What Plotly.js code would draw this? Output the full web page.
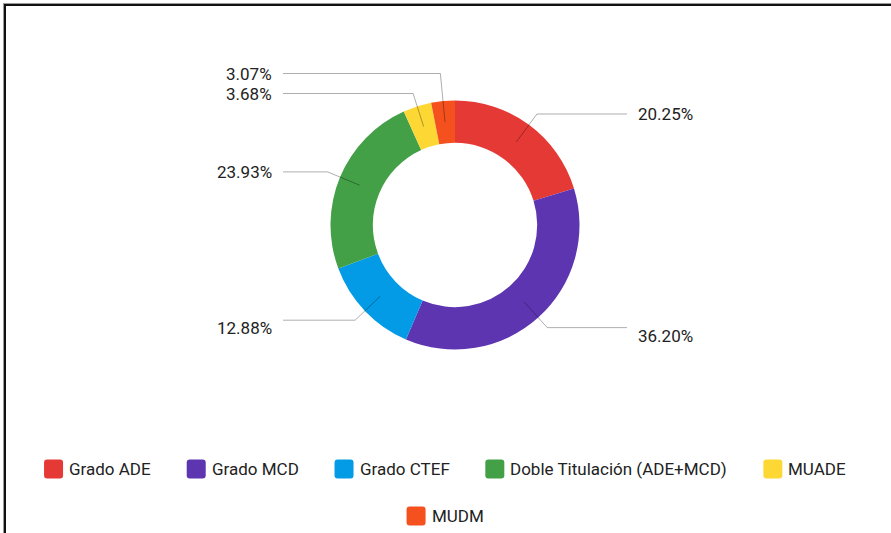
<!DOCTYPE html>
<html><head><meta charset="utf-8">
<script src="https://cdn.plot.ly/plotly-3.0.1.min.js"></script>
<style>
html,body{margin:0;padding:0;background:#fff;}
#wrap{position:relative;width:891px;height:533px;overflow:hidden;background:#fff;}
#chart{position:absolute;left:0;top:0;width:891px;height:533px;}
#f1{position:absolute;left:3px;top:3px;right:-10px;bottom:-10px;border-left:1px solid #9a9a9a;border-top:1px solid #9a9a9a;pointer-events:none;}
#f2{position:absolute;left:4px;top:4px;right:-10px;bottom:-10px;border-left:2px solid #111;border-top:2px solid #111;pointer-events:none;}
</style></head>
<body><div id="wrap"><div id="chart"></div><div id="f1"></div><div id="f2"></div></div>
<script>
// ---- data ----
const categories = ['Grado ADE', 'Grado MCD', 'Grado CTEF', 'Doble Titulación (ADE+MCD)', 'MUADE', 'MUDM'];
const shares = [20.25, 36.20, 12.88, 23.93, 3.68, 3.07];
const sliceColors = ['#E53935', '#5E35B1', '#039BE5', '#43A047', '#FDD835', '#F4511E'];
const valueLabels = shares.map(v => v.toFixed(2) + '%');

// ---- geometry (pixels) ----
const W = 891, H = 533;
const CX = 455, CY = 225, R = 124.5, HOLE = 0.66;
const FONT = 'Roboto, Arial, sans-serif';
const FS = 17;
const TXT = '#222222';
const px = x => x / W;
const py = y => 1 - y / H;

const total = shares.reduce((a, b) => a + b, 0);
let cum = 0;
const labs = shares.map((v, i) => {
  const a = (cum + v / 2) / total * 2 * Math.PI;
  cum += v;
  const s = Math.sin(a), c = Math.cos(a);
  return {i, s, c, side: s >= 0 ? 1 : -1, y: CY - c * 138};
});
// avoid overlaps on each side: push upward
[1, -1].forEach(side => {
  const grp = labs.filter(l => l.side === side).sort((p, q) => q.y - p.y);
  for (let k = 1; k < grp.length; k++) {
    grp[k].y = Math.min(grp[k].y, grp[k - 1].y - 20);
  }
});

const shapes = [];
const annotations = [];
const rm = R * (1 + HOLE) / 2;
labs.forEach(l => {
  const sx = CX + l.s * rm, sy = CY - l.c * rm;
  const t = Math.abs(l.c) > 0.05 ? (CY - l.y) / l.c : 138;
  const ex = CX + l.s * t, ey = l.y;
  const lx = CX + l.side * 172;
  shapes.push({
    type: 'path', xref: 'paper', yref: 'paper', layer: 'above',
    path: `M${px(sx)},${py(sy)} L${px(ex)},${py(ey)} L${px(lx)},${py(ey)}`,
    line: {color: 'rgba(0,0,0,0.32)', width: 1}
  });
  const ty = ey + (l.c < 0 ? 8 : 0);
  annotations.push({
    xref: 'paper', yref: 'paper', x: px(lx + l.side * 9), y: py(ty),
    xanchor: l.side > 0 ? 'left' : 'right', yanchor: 'middle',
    text: valueLabels[l.i], showarrow: false,
    font: {family: FONT, size: FS, color: TXT}
  });
});

// ---- custom legend ----
const cv = document.createElement('canvas').getContext('2d');
cv.font = FS + 'px Roboto';
const SQ = 19, TG = 6, IG = 36, LCX = 445, MAXW = 830;
const rows = [[]];
let rowW = 0;
categories.forEach((name, i) => {
  const w = SQ + TG + cv.measureText(name).width;
  const add = rows[rows.length - 1].length ? IG + w : w;
  if (rowW + add > MAXW && rows[rows.length - 1].length) { rows.push([]); rowW = 0; }
  const cur = rows[rows.length - 1];
  cur.push({i, w});
  rowW += cur.length > 1 ? IG + w : w;
});
function rr(x, y, w, h, r) {
  const X = v => px(v), Y = v => py(v);
  return `M${X(x + r)},${Y(y)} L${X(x + w - r)},${Y(y)} Q${X(x + w)},${Y(y)} ${X(x + w)},${Y(y + r)} ` +
    `L${X(x + w)},${Y(y + h - r)} Q${X(x + w)},${Y(y + h)} ${X(x + w - r)},${Y(y + h)} ` +
    `L${X(x + r)},${Y(y + h)} Q${X(x)},${Y(y + h)} ${X(x)},${Y(y + h - r)} ` +
    `L${X(x)},${Y(y + r)} Q${X(x)},${Y(y)} ${X(x + r)},${Y(y)} Z`;
}
rows.forEach((row, ri) => {
  const tw = row.reduce((a, it) => a + it.w, 0) + IG * (row.length - 1);
  let x = LCX - tw / 2;
  const yc = 469 + ri * 47;
  row.forEach(it => {
    shapes.push({
      type: 'path', xref: 'paper', yref: 'paper', layer: 'above',
      path: rr(x, yc - SQ / 2, SQ, SQ, 3),
      fillcolor: sliceColors[it.i], line: {width: 0}
    });
    annotations.push({
      xref: 'paper', yref: 'paper', x: px(x + SQ + TG - 2), y: py(yc),
      xanchor: 'left', yanchor: 'middle', text: categories[it.i], showarrow: false,
      font: {family: FONT, size: FS, color: TXT}
    });
    x += it.w + IG;
  });
});

const trace = {
  type: 'pie',
  labels: categories,
  values: shares,
  sort: false,
  direction: 'clockwise',
  rotation: 0,
  hole: HOLE,
  textinfo: 'none',
  hoverinfo: 'label+percent',
  marker: {colors: sliceColors, line: {width: 0}},
  domain: {x: [px(CX - R), px(CX + R)], y: [py(CY + R), py(CY - R)]},
  showlegend: false
};

const layout = {
  width: W, height: H,
  margin: {l: 0, r: 0, t: 0, b: 0},
  paper_bgcolor: '#ffffff',
  showlegend: false,
  font: {family: FONT, size: FS, color: TXT},
  shapes, annotations
};
Plotly.newPlot('chart', [trace], layout, {displayModeBar: false, staticPlot: true});
</script>
</body></html>
